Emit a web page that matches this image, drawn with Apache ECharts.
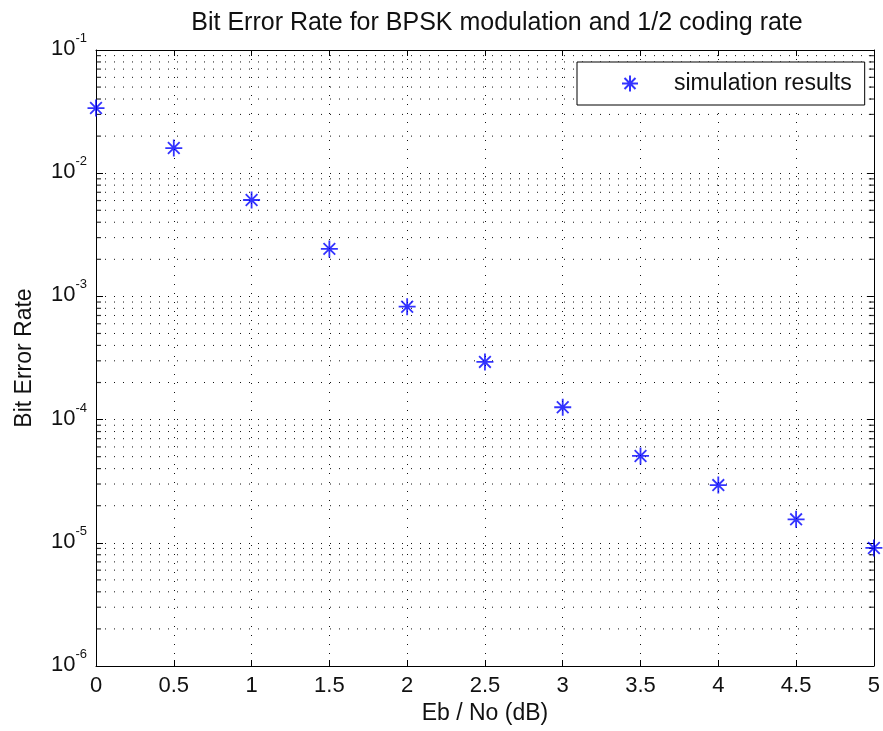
<!DOCTYPE html>
<html>
<head>
<meta charset="utf-8">
<script src="https://cdn.jsdelivr.net/npm/echarts@6/dist/echarts.min.js"></script>
<style>
  html, body { margin: 0; padding: 0; background: #fff; }
  #chart { width: 883px; height: 731px; }
</style>
</head>
<body>
<div id="chart"></div>
<script>
// ---- data ----
const ebNo = [0, 0.5, 1, 1.5, 2, 2.5, 3, 3.5, 4, 4.5, 5];
const ber = [0.0338, 0.0160, 0.00606, 0.00243, 0.000825, 0.000294, 0.000126, 5.07e-5, 2.94e-5, 1.55e-5, 9.08e-6];
const seriesName = 'simulation results';
const titleText = 'Bit Error Rate for BPSK modulation and 1/2 coding rate';
const xName = 'Eb / No (dB)';
const yName = 'Bit Error Rate';
const decadeExps = [-6, -5, -4, -3, -2];
const minorMults = [2, 3, 4, 5, 6, 7, 8, 9];
const xRange = [0, 5];

// minor grid values (2..9 x 10^e)
const minorVals = [];
decadeExps.forEach(e => minorMults.forEach(m => minorVals.push(+(m * Math.pow(10, e)).toPrecision(3))));

const FONT = 'Liberation Sans, Arial, sans-serif';
const TXT = '#111';
const dotted = { type: [1, 8], color: '#111', width: 1 };
const starPath = 'path://M0,-8L0,8M-8,0L8,0M-5.5,-5.5L5.5,5.5M-5.5,5.5L5.5,-5.5';

// dotted minor grid lines as line series through the axes
const minorGridSeries = minorVals.map(v => ({
  type: 'line',
  silent: true,
  z: 1,
  symbol: 'none',
  showSymbol: false,
  animation: false,
  lineStyle: dotted,
  emphasis: { disabled: true },
  tooltip: { show: false },
  data: [[xRange[0], v], [xRange[1], v]]
}));

const chart = echarts.init(document.getElementById('chart'), null, { renderer: 'canvas' });
chart.setOption({
  backgroundColor: '#fff',
  animation: false,
  textStyle: { fontFamily: FONT, color: TXT },
  title: {
    text: titleText,
    left: 492,
    textAlign: 'center',
    top: 6,
    textStyle: { fontFamily: FONT, fontSize: 25, fontWeight: 'normal', color: TXT }
  },
  legend: {
    data: [seriesName],
    left: 577,
    top: 62,
    orient: 'horizontal',
    padding: [10, 13, 10, 44],
    itemWidth: 16,
    itemHeight: 16,
    backgroundColor: '#fff',
    borderColor: '#000',
    borderWidth: 1,
    borderRadius: 0,
    textStyle: { fontFamily: FONT, fontSize: 23, color: TXT, padding: [0, 0, 0, 31], lineHeight: 23 }
  },
  grid: { left: 96, right: 4, top: 50, bottom: 65, containLabel: false },
  xAxis: [{
    type: 'value',
    min: xRange[0], max: xRange[1], interval: 0.5,
    name: xName,
    nameLocation: 'middle',
    nameGap: 36,
    nameTextStyle: { fontFamily: FONT, fontSize: 23, color: TXT },
    axisLine: { show: true, onZero: false, lineStyle: { color: '#000', width: 1 } },
    axisTick: { show: true, inside: true, length: 6, lineStyle: { color: '#000' } },
    axisLabel: { fontFamily: FONT, fontSize: 22, color: TXT, margin: 9 },
    splitLine: { show: true, lineStyle: dotted }
  }, {
    type: 'value',
    position: 'top',
    min: xRange[0], max: xRange[1], interval: 0.5,
    axisLine: { show: true, onZero: false, lineStyle: { color: '#000', width: 1 } },
    axisTick: { show: true, inside: true, length: 6, lineStyle: { color: '#000' } },
    axisLabel: { show: false },
    splitLine: { show: false }
  }],
  yAxis: [{
    type: 'log',
    logBase: 10,
    min: 1e-6, max: 0.1,
    name: yName,
    nameLocation: 'middle',
    nameGap: 60,
    nameRotate: 90,
    nameTextStyle: { fontFamily: FONT, fontSize: 23, color: TXT },
    axisLine: { show: true, onZero: false, lineStyle: { color: '#000', width: 1 } },
    axisTick: { show: true, inside: true, length: 7, lineStyle: { color: '#000' } },
    axisLabel: {
      margin: 9,
      padding: [0, 0, 8, 0],
      formatter: function (v) {
        const e = Math.round(Math.log10(v));
        return '{b|10}{s|' + e + '}';
      },
      rich: {
        b: { fontFamily: FONT, fontSize: 22, color: TXT, lineHeight: 28, verticalAlign: 'bottom' },
        s: { fontFamily: FONT, fontSize: 13, color: TXT, lineHeight: 28, verticalAlign: 'top' }
      }
    },
    splitLine: { show: true, lineStyle: dotted }
  }, {
    type: 'log',
    logBase: 10,
    min: 1e-6, max: 0.1,
    position: 'right',
    axisLine: { show: true, onZero: false, lineStyle: { color: '#000', width: 1 } },
    axisTick: { show: true, inside: true, length: 7, lineStyle: { color: '#000' } },
    axisLabel: { show: false },
    splitLine: { show: false }
  }],
  series: minorGridSeries.concat([
    {
      name: 'minorLeft',
      type: 'scatter',
      xAxisIndex: 0, yAxisIndex: 0,
      silent: true,
      clip: false,
      z: 2,
      symbol: 'rect',
      symbolSize: [5, 1.2],
      symbolOffset: [2.5, 0],
      itemStyle: { color: '#000' },
      data: minorVals.map(v => [xRange[0], v])
    },
    {
      name: 'minorRight',
      type: 'scatter',
      xAxisIndex: 0, yAxisIndex: 0,
      silent: true,
      clip: false,
      z: 2,
      symbol: 'rect',
      symbolSize: [5, 1.2],
      symbolOffset: [-2.5, 0],
      itemStyle: { color: '#000' },
      data: minorVals.map(v => [xRange[1], v])
    },
    {
      name: seriesName,
      type: 'scatter',
      xAxisIndex: 0, yAxisIndex: 0,
      clip: false,
      z: 5,
      symbol: starPath,
      symbolSize: 17,
      itemStyle: { color: '#0000ff', borderColor: '#0000ff', borderWidth: 1.8 },
      data: ebNo.map((x, i) => [x, ber[i]])
    }
  ])
});
</script>
</body>
</html>
